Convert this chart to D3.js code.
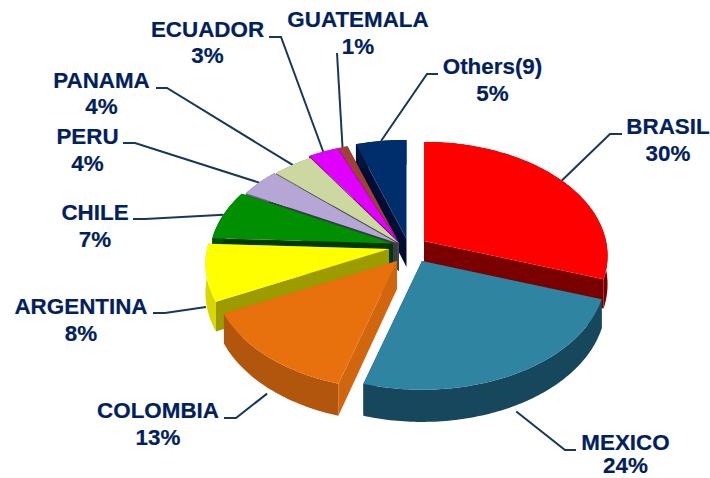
<!DOCTYPE html>
<html lang="en">
<head>
    <meta charset="UTF-8">
    <title>Share by country</title>
    <script src="https://d3js.org/d3.v7.min.js"></script>
    <style>
        html, body { margin: 0; padding: 0; background: #fff; }
        text { font-family: "Liberation Sans", Arial, sans-serif; font-weight: bold; font-size: 22.4px; fill: #002060; stroke: #002060; stroke-width: 0.2; text-anchor: middle; }
    </style>
</head>
<body>
    <script>
        const categories = ["BRASIL", "MEXICO", "COLOMBIA", "ARGENTINA", "CHILE", "PERU", "PANAMA", "ECUADOR", "GUATEMALA", "Others(9)"];
        const shares = [30, 24, 13, 8, 7, 4, 4, 3, 1, 5];

        const topColors = ["#ff0000", "#2f84a1", "#e8700c", "#ffff00", "#008f00", "#b6a6d6", "#ccd8a0", "#e000ff", "#a0403a", "#002f6c"];
        const wallColors = ["#7a0000", "#17465c", "#b25409", "#d8d800", "#005000", "#6a5f80", "#707850", "#700080", "#602420", "#001538"];
        const edgeColors = ["#7a0000", "#17465c", "#d0660a", "#9c9c00", "#003800", "#3c3850", "#44483c", "#480058", "#3c1820", "#001030"];

        const w = 710;
        const h = 478;

        // screen position of each slice's tip (the pie is exploded by hand)
        const tips = [[424, 241], [422, 261], [397, 261], [389, 249], [393, 243.5], [397, 243], [399, 243], [398, 241], [398, 241], [406.5, 239]];

        // [centre x, first baseline, second baseline]
        const labelPos = [[668, 134, 161], [625.5, 449.5, 472.5], [158, 418, 445], [81, 314, 341], [95, 220, 247], [87.5, 144, 171], [101.5, 88, 114], [207.5, 37, 63], [358, 27, 54], [492.5, 74, 101]];
        // [end next to the text, elbow]
        const leaderPos = [[[622, 134], [610, 134]], [[576, 450], [565, 450]], [[224, 418], [236, 418]], [[153, 313], [165, 313]], [[133, 219], [145, 219]], [[123, 143], [135, 143]], [[156, 88], [167, 88]], [[269, 37], [281, 37]], [[337, 53], [337, 53]], [[438, 74], [427, 74]]];

        // back to front
        const drawOrder = [0, 9, 8, 7, 6, 5, 4, 3, 2, 1];

        const rx = 182;
        const ry = 112;
        const persp = 0.13;
        const depth = 28;

        const arcs = d3.pie().sort(null)(shares);
        const line = d3.line();

        // slice i, angle clockwise from the top, radius 0..1, z = height below the top face
        function project(i, a, r, z) {
            const u = r * Math.sin(a);
            const v = -r * Math.cos(a);
            const s = 1 / (1 - persp * v);
            return [tips[i][0] + u * rx * s, tips[i][1] + v * ry * s + z * depth * s];
        }

        function outerArc(i, z) {
            const d = arcs[i];
            const n = Math.ceil((d.endAngle - d.startAngle) * 60);
            return d3.range(n + 1).map(k => project(i, d.startAngle + (d.endAngle - d.startAngle) * k / n, 1, z));
        }

        function edgeWall(i, a) {
            return [project(i, a, 0, 0), project(i, a, 1, 0), project(i, a, 1, 1), project(i, a, 0, 1)];
        }

        const svg = d3.select("body")
            .append("svg")
            .attr("width", w)
            .attr("height", h)
            .style("display", "block");

        svg.append("defs").append("filter")
            .attr("id", "soft")
            .append("feGaussianBlur")
            .attr("stdDeviation", 0.6);

        // leaders go under the pie
        svg.append("g")
            .selectAll("path")
            .data(arcs)
            .enter()
            .append("path")
            .attr("fill", "none")
            .attr("stroke", "#17375e")
            .attr("stroke-width", 2)
            .attr("d", (d, i) => {
                const mid = (d.startAngle + d.endAngle) / 2;
                const z = Math.cos(mid) < 0 ? 1.2 : 0;
                return line([leaderPos[i][0], leaderPos[i][1], project(i, mid, 1, z)]);
            });

        const slices = svg.append("g")
            .attr("filter", "url(#soft)")
            .selectAll("g")
            .data(drawOrder)
            .enter()
            .append("g");

        slices.append("path")
            .attr("fill", i => edgeColors[i])
            .attr("d", i => line(edgeWall(i, arcs[i].startAngle)) + "Z");

        slices.append("path")
            .attr("fill", i => edgeColors[i])
            .attr("d", i => line(edgeWall(i, arcs[i].endAngle)) + "Z");

        slices.append("path")
            .attr("fill", i => wallColors[i])
            .attr("d", i => line(outerArc(i, 0).concat(outerArc(i, 1).reverse())) + "Z");

        slices.append("path")
            .attr("fill", i => topColors[i])
            .attr("d", i => line([tips[i]].concat(outerArc(i, 0))) + "Z");

        const labels = svg.append("g")
            .selectAll("g")
            .data(categories)
            .enter()
            .append("g");

        labels.append("text")
            .attr("x", (d, i) => labelPos[i][0])
            .attr("y", (d, i) => labelPos[i][1])
            .text(d => d);

        labels.append("text")
            .attr("x", (d, i) => labelPos[i][0])
            .attr("y", (d, i) => labelPos[i][2])
            .text((d, i) => shares[i] + "%");
    </script>
</body>
</html>
